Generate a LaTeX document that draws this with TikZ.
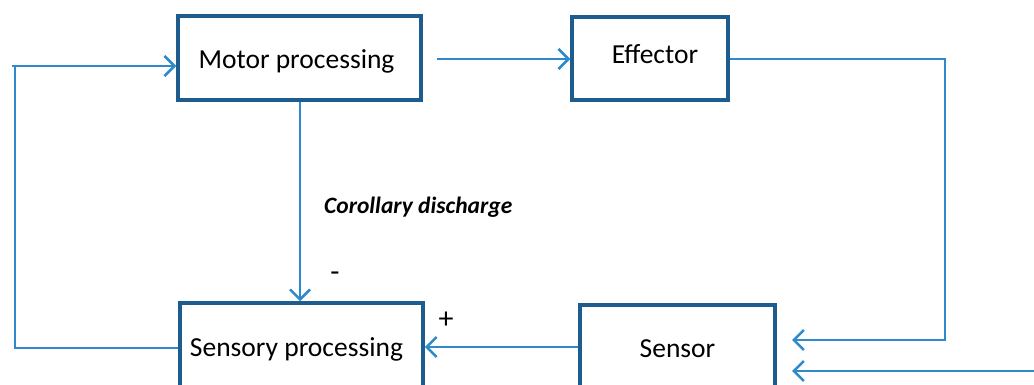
\documentclass[tikz,border=0pt]{standalone}
\usepackage{fontspec}
\setmainfont{Carlito}
\usetikzlibrary{arrows.meta,calc}
\definecolor{boxblue}{HTML}{1F5C8E}
\definecolor{arrblue}{HTML}{2F8ACB}
\tikzset{
  box/.style={draw=boxblue, line width=3.5pt, fill=white, inner sep=0pt, font=\fontsize{27.5}{30}\selectfont},
  arr/.style={draw=arrblue, line width=2.5pt, -{Straight Barb[length=10pt,width=20pt,line width=2.5pt]}},
  ln/.style={draw=arrblue, line width=2.5pt},
  lbl/.style={inner sep=0pt, font=\fontsize{30}{32}\selectfont}
}
\begin{document}
\begin{tikzpicture}[x=1pt,y=-1pt]
\useasboundingbox (0,0) rectangle (1034,385);
\node[box, minimum width=243pt, minimum height=84pt] (motor) at (299.5,58) {\hspace*{-6pt}\raisebox{-3pt}[\height][\depth]{Motor processing}};
\node[box, minimum width=156pt, minimum height=83pt] (eff) at (650,58.5) {\hspace*{10pt}\raisebox{8pt}{Effector}};
\node[box, minimum width=243pt, minimum height=92pt] (sens) at (301.5,349) {\hspace*{-10pt}Sensory processing};
\node[box, minimum width=195pt, minimum height=90pt] (sensor) at (677.5,350) {\raisebox{3pt}{Sensor}};

\coordinate (m1) at (437,59);
\coordinate (r1) at (945,59);
\coordinate (r2) at (945,340);
\coordinate (s1) at (792,340);
\coordinate (in1) at (1034,371);
\coordinate (s2) at (792,371);
\coordinate (l1) at (15,348);
\coordinate (l2) at (15,66);
\coordinate (l0) at (12,66);

\draw[arr] (m1) -- (eff.west |- m1);
\draw[arr] (eff.east |- r1) -- (r1) -- (r2) -- (s1);
\draw[arr] (in1) -- (s2);
\draw[arr] (sensor.west |- 0,347) -- (sens.east |- 0,347);
\draw[ln] (sens.west |- l1) -- (l1) -- (l2);
\draw[arr] (l0) -- (motor.west |- l0);
\draw[arr] (motor.south -| 300,0) -- (sens.north -| 300,0);

\node[lbl, anchor=west, font=\fontsize{23.5}{26}\selectfont\bfseries\itshape] (cd) at (324,207) {Corollary discharge};
\node[lbl] (minus) at (335,277) {-};
\node[lbl] (plus) at (446,320) {+};
\end{tikzpicture}
\end{document}
